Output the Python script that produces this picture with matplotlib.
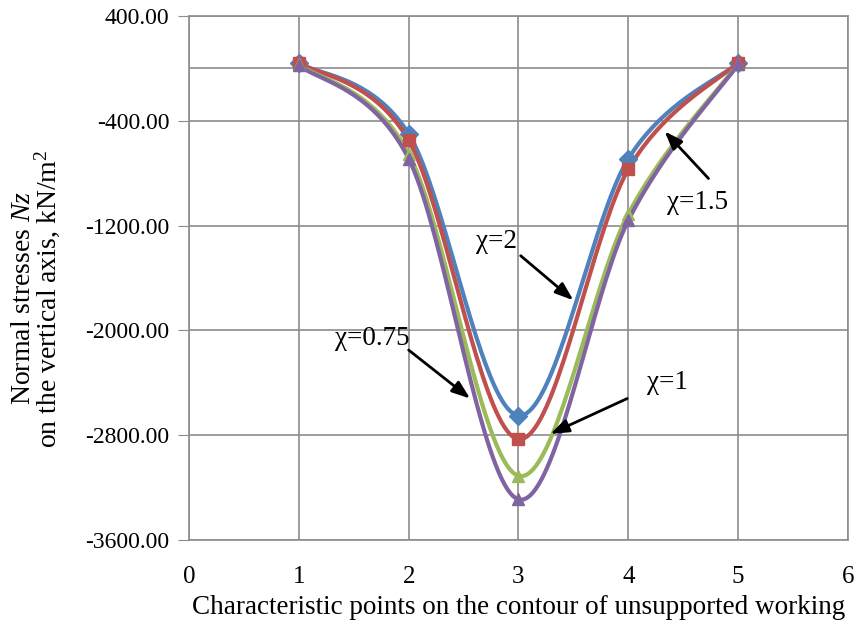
import numpy as np
import matplotlib
matplotlib.use('Agg')
import matplotlib.pyplot as plt

plt.rcParams['font.family'] = ['Liberation Serif', 'DejaVu Serif']
plt.rcParams['mathtext.fontset'] = 'custom'
plt.rcParams['mathtext.rm'] = 'Liberation Serif'
plt.rcParams['mathtext.it'] = 'Liberation Serif:italic'

# pontos característicos
pontos = [1, 2, 3, 4, 5]
chi_2 = [40, -500, -2650, -690, 40]
chi_15 = [45, -550, -2830, -770, 45]
chi_1 = [30, -650, -3110, -1110, 35]
chi_075 = [25, -690, -3290, -1160, 30]

SERIES = [('χ=2', chi_2, '#4F81BD', 'D'),
          ('χ=1.5', chi_15, '#C0504D', 's'),
          ('χ=1', chi_1, '#9BBB59', '^'),
          ('χ=0.75', chi_075, '#8064A2', '^')]

y_ticks = [400, -400, -1200, -2000, -2800, -3600]
x_ticks = [0, 1, 2, 3, 4, 5, 6]


def suave(x, y, n=40):
    # curva suavizada tipo Excel (Bezier com tangentes Catmull-Rom)
    x = np.asarray(x, float)
    y = np.asarray(y, float)
    px, py = [], []
    for i in range(len(x) - 1):
        i0 = max(i - 1, 0)
        i3 = min(i + 2, len(x) - 1)
        c1x = x[i] + (x[i + 1] - x[i0]) / 6
        c1y = y[i] + (y[i + 1] - y[i0]) / 6
        c2x = x[i + 1] - (x[i3] - x[i]) / 6
        c2y = y[i + 1] - (y[i3] - y[i]) / 6
        t = np.linspace(0, 1, n)
        px.extend((1 - t) ** 3 * x[i] + 3 * (1 - t) ** 2 * t * c1x + 3 * (1 - t) * t ** 2 * c2x + t ** 3 * x[i + 1])
        py.extend((1 - t) ** 3 * y[i] + 3 * (1 - t) ** 2 * t * c1y + 3 * (1 - t) * t ** 2 * c2y + t ** 3 * y[i + 1])
    return px, py


fig = plt.figure(figsize=(8.58, 6.28), dpi=100)
ax = fig.add_axes([0.2203, 0.1401, 0.768, 0.8344])

for nome, vals, cor, marc in SERIES:
    sx, sy = suave(pontos, vals)
    ax.plot(sx, sy, color=cor, linewidth=3, zorder=3)
    ax.plot(pontos, vals, linestyle='none', marker=marc, color=cor, markersize=9, zorder=4)

ax.set_xlim(0, 6)
ax.set_ylim(-3600, 400)
ax.set_xticks(x_ticks)
ax.set_yticks(y_ticks)
ax.set_yticklabels([f'{v:.2f}' for v in y_ticks])
ax.grid(True, color='#8c8c8c', linewidth=1.2)
ax.axhline(0, color='#8c8c8c', linewidth=1.2, zorder=1)
for s in ax.spines.values():
    s.set_color('#8c8c8c')
    s.set_linewidth(1.2)
ax.tick_params(axis='y', labelsize=17, length=8, color='#8c8c8c', pad=6)
ax.tick_params(axis='x', labelsize=18, length=0, pad=19)

ax.set_xlabel('Characteristic points on the contour of unsupported working', fontsize=19.5, labelpad=5)
fig.text(0.043, 0.525, 'Normal stresses $\\mathit{Nz}$\non the vertical axis, kN/m$^2$',
         rotation=90, ha='center', va='center', fontsize=20, linespacing=0.85)

seta = dict(arrowstyle='-|>,head_length=1.1,head_width=0.4', color='black', lw=2, shrinkA=0, shrinkB=0)
ax.annotate('', xy=(3.5, -1770), xytext=(3.02, -1430), arrowprops=seta)
ax.text(2.8, -1320, 'χ=2', fontsize=19.5, ha='center', va='center')
ax.annotate('', xy=(4.33, -480), xytext=(4.73, -840), arrowprops=seta)
ax.text(4.63, -1020, 'χ=1.5', fontsize=19.5, ha='center', va='center')
ax.annotate('', xy=(2.56, -2520), xytext=(2.0, -2150), arrowprops=seta)
ax.text(1.67, -2060, 'χ=0.75', fontsize=19.5, ha='center', va='center')
ax.annotate('', xy=(3.29, -2790), xytext=(3.99, -2520), arrowprops=seta)
ax.text(4.36, -2400, 'χ=1', fontsize=19.5, ha='center', va='center')

fig.savefig('out.png', dpi=100)
